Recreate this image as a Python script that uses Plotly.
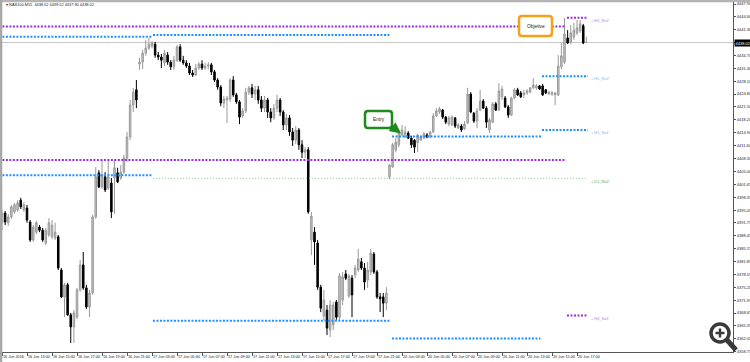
import plotly.graph_objects as go

# ---------------- data ----------------
time_labels = ["16 Jun 2016", "16 Jun 13:00", "16 Jun 15:00", "16 Jun 17:00", "16 Jun 19:00",
               "16 Jun 21:00", "17 Jun 03:00", "17 Jun 05:00", "17 Jun 07:00", "17 Jun 09:00",
               "17 Jun 11:00", "17 Jun 13:00", "17 Jun 15:00", "17 Jun 17:00", "17 Jun 19:00",
               "17 Jun 21:00", "20 Jun 03:00", "20 Jun 05:00", "20 Jun 07:00", "20 Jun 09:00",
               "20 Jun 11:00", "20 Jun 13:00", "20 Jun 15:00", "20 Jun 17:00"]

price_ticks = [4447.90, 4444.60, 4441.30, 4438.00, 4434.70, 4431.40, 4428.10, 4424.80,
               4421.50, 4418.20, 4414.90, 4411.60, 4408.30, 4405.00, 4401.65, 4398.35,
               4395.05, 4391.75, 4388.45, 4385.15, 4381.85, 4378.55, 4375.25, 4371.95,
               4368.65, 4365.35, 4362.05, 4358.75]

opens = [4391.8, 4394.3, 4391.8, 4393.3, 4394.6, 4395.1, 4397.6, 4395.1, 4395.6, 4392.0,
         4387.4, 4389.4, 4390.7, 4389.9, 4386.6, 4388.7, 4388.2, 4387.9, 4388.2, 4379.7,
         4372.8, 4375.9, 4368.2, 4365.1, 4367.6, 4374.6, 4381.0, 4375.1, 4370.2, 4373.8,
         4393.3, 4404.6, 4401.0, 4403.6, 4400.7, 4402.0, 4403.3, 4404.6, 4403.3, 4404.8,
         4408.4, 4413.8, 4422.0, 4425.9, 4432.5, 4433.0, 4435.3, 4436.6, 4437.1, 4437.6,
         4434.8, 4434.3, 4432.8, 4434.8, 4433.0, 4431.8, 4433.5, 4436.9, 4433.5, 4432.8,
         4432.0, 4430.2, 4429.7, 4431.5, 4432.5, 4431.5, 4432.0, 4432.3, 4430.5, 4428.4,
         4426.6, 4422.5, 4423.3, 4423.5, 4428.4, 4424.6, 4422.8, 4419.2, 4420.5, 4425.3,
         4426.4, 4424.8, 4425.9, 4423.3, 4421.2, 4423.3, 4420.2, 4418.7, 4421.2, 4423.3,
         4420.2, 4416.9, 4418.7, 4415.1, 4413.0, 4415.6, 4411.8, 4409.9, 4410.5, 4387.4,
         4389.4, 4386.6, 4375.3, 4367.9, 4369.4, 4364.3, 4365.6, 4371.5, 4367.6, 4372.0,
         4378.7, 4373.0, 4377.6, 4378.4, 4379.7, 4381.8, 4380.2, 4377.1, 4379.2, 4383.8,
         4379.2, 4372.8, 4372.8, 4371.2, 4403.6, 4406.1, 4410.5, 4411.8, 4414.3, 4413.8,
         4414.8, 4413.5, 4413.0, 4412.3, 4413.0, 4413.5, 4414.3, 4413.8, 4415.1, 4419.2,
         4420.2, 4420.7, 4418.9, 4417.1, 4416.9, 4418.7, 4416.1, 4416.6, 4415.9, 4417.4,
         4424.8, 4419.9, 4417.9, 4420.7, 4423.0, 4421.2, 4415.6, 4417.6, 4422.3, 4420.7,
         4424.1, 4423.8, 4421.5, 4419.4, 4423.8, 4425.9, 4425.1, 4424.6, 4425.1, 4425.3,
         4426.4, 4426.4, 4426.9, 4426.9, 4425.9, 4424.8, 4424.8, 4424.6, 4424.6, 4431.8,
         4433.0, 4439.2, 4438.2, 4439.4, 4440.5, 4441.0, 4442.3, 4438.02]
highs = [4395.1, 4394.8, 4394.1, 4396.4, 4396.9, 4397.6, 4398.2, 4397.1, 4396.4, 4392.5,
         4391.2, 4392.3, 4391.2, 4390.5, 4390.5, 4393.0, 4392.5, 4391.8, 4388.7, 4380.2,
         4376.4, 4376.4, 4368.7, 4369.4, 4375.1, 4382.3, 4384.3, 4375.9, 4374.6, 4393.8,
         4406.1, 4405.3, 4407.9, 4404.8, 4407.9, 4403.3, 4407.9, 4405.9, 4406.6, 4409.2,
         4415.1, 4423.3, 4426.4, 4428.4, 4434.1, 4436.1, 4438.7, 4439.2, 4438.4, 4438.2,
         4435.6, 4435.1, 4436.1, 4435.6, 4433.5, 4434.6, 4437.4, 4437.6, 4434.6, 4433.5,
         4432.8, 4431.0, 4432.5, 4433.0, 4433.5, 4432.8, 4433.0, 4432.8, 4431.0, 4428.9,
         4427.1, 4424.3, 4424.3, 4428.9, 4429.4, 4425.1, 4423.3, 4421.2, 4426.4, 4426.9,
         4427.4, 4426.9, 4426.9, 4424.3, 4424.3, 4423.8, 4421.2, 4422.3, 4424.6, 4423.8,
         4420.7, 4419.7, 4419.4, 4416.1, 4416.6, 4416.1, 4413.0, 4411.2, 4411.2, 4394.6,
         4390.7, 4387.4, 4375.9, 4374.6, 4370.7, 4372.0, 4371.5, 4372.0, 4378.9, 4379.2,
         4379.7, 4378.7, 4378.4, 4381.0, 4385.1, 4382.8, 4381.5, 4381.8, 4385.1, 4384.3,
         4379.7, 4373.8, 4373.8, 4375.3, 4406.9, 4412.3, 4413.5, 4415.6, 4416.9, 4416.6,
         4415.3, 4414.1, 4413.3, 4414.6, 4414.1, 4415.1, 4414.8, 4415.3, 4419.9, 4421.2,
         4421.5, 4421.0, 4419.2, 4419.2, 4419.4, 4418.9, 4417.4, 4417.1, 4417.9, 4426.4,
         4425.3, 4420.2, 4421.2, 4425.9, 4423.5, 4421.7, 4418.7, 4422.8, 4422.8, 4427.6,
         4426.9, 4424.3, 4422.0, 4424.1, 4426.4, 4426.4, 4425.6, 4425.9, 4426.1, 4426.6,
         4428.9, 4427.4, 4427.1, 4427.4, 4426.1, 4425.6, 4425.6, 4425.3, 4434.8, 4437.9,
         4444.3, 4441.2, 4442.5, 4443.0, 4443.8, 4443.8, 4442.8, 4439.52]
lows = [4389.9, 4391.2, 4391.0, 4392.8, 4394.1, 4394.6, 4395.3, 4394.6, 4391.8, 4386.9,
        4386.9, 4388.9, 4389.4, 4386.9, 4386.1, 4388.2, 4387.6, 4387.4, 4379.7, 4372.5,
        4367.6, 4367.9, 4361.0, 4361.0, 4367.1, 4374.1, 4374.6, 4369.7, 4367.6, 4373.3,
        4392.8, 4400.7, 4400.5, 4399.7, 4400.2, 4393.0, 4394.1, 4402.0, 4402.8, 4404.3,
        4407.4, 4413.0, 4420.2, 4421.2, 4431.0, 4431.2, 4434.6, 4436.1, 4436.6, 4434.1,
        4433.5, 4431.5, 4432.0, 4432.3, 4431.0, 4431.0, 4433.0, 4433.0, 4432.3, 4431.5,
        4429.7, 4429.2, 4429.4, 4431.0, 4431.0, 4431.0, 4431.2, 4429.7, 4427.9, 4425.9,
        4421.7, 4421.2, 4417.4, 4422.8, 4424.1, 4422.3, 4417.1, 4418.7, 4419.9, 4424.6,
        4423.8, 4423.3, 4422.3, 4420.2, 4420.2, 4418.7, 4417.6, 4418.2, 4420.2, 4419.2,
        4415.6, 4415.6, 4414.1, 4411.5, 4412.0, 4410.5, 4408.4, 4408.4, 4394.1, 4383.5,
        4381.0, 4374.6, 4368.9, 4366.9, 4363.0, 4362.5, 4364.3, 4366.9, 4366.9, 4370.7,
        4377.1, 4372.5, 4367.6, 4377.6, 4379.2, 4379.7, 4374.6, 4375.1, 4378.4, 4378.7,
        4372.3, 4368.9, 4367.6, 4369.4, 4403.0, 4405.9, 4409.9, 4411.2, 4414.1, 4413.5,
        4413.3, 4411.0, 4409.7, 4409.9, 4412.8, 4413.3, 4413.5, 4413.5, 4414.8, 4418.9,
        4419.7, 4418.4, 4417.1, 4416.6, 4416.6, 4416.1, 4415.9, 4415.1, 4415.6, 4417.1,
        4419.9, 4417.4, 4416.1, 4420.5, 4421.0, 4416.1, 4414.8, 4417.4, 4420.5, 4420.5,
        4423.3, 4421.2, 4418.7, 4419.2, 4423.5, 4424.3, 4423.8, 4423.8, 4424.6, 4425.1,
        4426.1, 4425.9, 4425.9, 4424.3, 4424.8, 4424.6, 4424.3, 4422.0, 4424.3, 4431.2,
        4432.5, 4437.6, 4437.6, 4438.7, 4439.9, 4440.5, 4437.6, 4437.90]
closes = [4394.3, 4392.0, 4393.3, 4395.9, 4396.4, 4396.9, 4395.9, 4396.4, 4392.5, 4387.4,
          4390.7, 4391.8, 4389.9, 4387.4, 4389.9, 4391.8, 4391.2, 4389.4, 4380.2, 4372.8,
          4375.9, 4368.2, 4365.1, 4368.7, 4374.6, 4381.0, 4375.1, 4370.2, 4373.8, 4393.3,
          4403.6, 4401.0, 4404.1, 4400.2, 4403.6, 4394.6, 4405.9, 4402.3, 4404.8, 4408.4,
          4413.8, 4422.0, 4425.3, 4423.3, 4433.0, 4435.3, 4436.6, 4437.6, 4437.9, 4434.8,
          4434.3, 4433.5, 4435.3, 4433.0, 4431.8, 4433.5, 4436.9, 4433.5, 4432.8, 4432.0,
          4430.2, 4429.7, 4431.5, 4432.5, 4431.5, 4432.0, 4432.3, 4430.5, 4428.4, 4426.6,
          4422.5, 4423.5, 4423.8, 4428.4, 4424.6, 4422.8, 4418.9, 4420.5, 4425.3, 4426.4,
          4424.8, 4425.9, 4423.3, 4421.2, 4423.3, 4420.2, 4418.7, 4421.2, 4423.3, 4420.2,
          4416.9, 4418.7, 4415.1, 4413.0, 4415.6, 4411.8, 4409.9, 4410.5, 4394.6, 4393.5,
          4386.9, 4375.3, 4369.9, 4372.0, 4364.8, 4370.7, 4370.7, 4367.6, 4378.2, 4377.9,
          4377.6, 4378.2, 4373.3, 4380.2, 4382.5, 4380.2, 4376.6, 4379.7, 4384.0, 4379.2,
          4372.8, 4372.3, 4371.2, 4373.8, 4406.6, 4411.8, 4412.5, 4414.8, 4415.6, 4415.1,
          4413.5, 4411.8, 4411.2, 4414.3, 4413.8, 4414.6, 4413.8, 4415.1, 4419.2, 4420.5,
          4421.0, 4418.9, 4417.6, 4418.7, 4418.9, 4416.6, 4416.9, 4415.6, 4417.1, 4424.8,
          4420.2, 4417.9, 4420.5, 4423.0, 4421.2, 4417.6, 4418.2, 4422.3, 4420.7, 4425.6,
          4426.1, 4421.5, 4419.4, 4423.8, 4425.9, 4424.6, 4424.1, 4425.1, 4425.6, 4426.4,
          4427.1, 4426.9, 4426.1, 4424.6, 4425.1, 4425.3, 4425.1, 4425.1, 4432.0, 4434.6,
          4440.2, 4437.9, 4440.5, 4441.2, 4441.8, 4442.8, 4437.9, 4438.02]

header = "NAS100,M15  4438.02 4439.52 4437.90 4438.02"
last_price = 4438.02

# support / resistance levels: (price, first bar, last bar)
purple_levels = [(4442.1, -1, 180.5), (4407.9, -1, 180.5), (4444.4, 180.8, 187.5), (4368.0, 180.8, 187.5)]
blue_levels = [(4439.5, -1, 48), (4439.95, 48.3, 124.2), (4404.0, -1, 48), (4366.7, 48.3, 124.2),
               (4413.9, 124.8, 172.5), (4362.1, 124.8, 172.3), (4429.4, 172.8, 187.5), (4415.6, 172.8, 187.5)]
green_levels = [(4403.2, 48.3, 187.5)]
level_names = [("+ H4_RoZ", 4443.6, "#b27fe6"), ("+ H1_RoZ", 4428.7, "#7db7f0"),
               ("+ H1_SoZ", 4414.9, "#7db7f0"), ("+ D1_RoZ", 4402.5, "#4caf50"),
               ("+ H4_SoZ", 4367.2, "#b27fe6")]

# ---------------- figure ----------------
W, H = 750, 362
ML, MR, MT, MB = 2, 17, 2, 10
PW, PH = W - ML - MR, H - MT - MB
BAR_PX = 3.125
FONT = "Liberation Sans"
y_top = 4447.90 + (4 - MT) / 3.9
y_bot = 4447.90 - (H - MB - 4) / 3.9


def px(x):
    return (x - ML) / PW


def py(y):
    return (H - MB - y) / PH


x = list(range(len(opens)))
fig = go.Figure()
fig.add_trace(go.Candlestick(
    x=x, open=opens, high=highs, low=lows, close=closes,
    increasing=dict(line=dict(color="#9a9a9a", width=1), fillcolor="#c6c6c6"),
    decreasing=dict(line=dict(color="#000000", width=1), fillcolor="#000000"),
    whiskerwidth=0, hoverinfo="skip", showlegend=False))

shapes = []
# current price line
shapes.append(dict(type="line", xref="paper", yref="y", x0=0, x1=1, y0=last_price, y1=last_price,
                   line=dict(color="#c8c8c8", width=1), layer="below"))
for p, a, b in purple_levels:
    shapes.append(dict(type="line", xref="x", yref="y", x0=a, x1=b, y0=p, y1=p,
                       line=dict(color="#9a2fe0", width=2, dash="2px,1.5px")))
for p, a, b in blue_levels:
    shapes.append(dict(type="line", xref="x", yref="y", x0=a, x1=b, y0=p, y1=p,
                       line=dict(color="#1e90ff", width=2, dash="2px,1.5px")))
for p, a, b in green_levels:
    shapes.append(dict(type="line", xref="x", yref="y", x0=a, x1=b, y0=p, y1=p,
                       line=dict(color="#8fd08f", width=1, dash="1px,2px")))


def rounded_box(x0, y0, x1, y1, r):
    # pixel coords -> paper path
    X0, X1 = px(x0), px(x1)
    Y0, Y1 = py(y0), py(y1)
    rx, ry = r / PW, r / PH
    return (f"M{X0+rx},{Y0} L{X1-rx},{Y0} Q{X1},{Y0} {X1},{Y0-ry} L{X1},{Y1+ry} "
            f"Q{X1},{Y1} {X1-rx},{Y1} L{X0+rx},{Y1} Q{X0},{Y1} {X0},{Y1+ry} "
            f"L{X0},{Y0-ry} Q{X0},{Y0} {X0+rx},{Y0} Z")


shapes.append(dict(type="path", xref="paper", yref="paper", path=rounded_box(519, 16, 552, 36, 3),
                   line=dict(color="#f5a01a", width=2.5), fillcolor="#ffffff"))
shapes.append(dict(type="path", xref="paper", yref="paper", path=rounded_box(365, 111, 392, 128, 3),
                   line=dict(color="#1e8a1e", width=2.5), fillcolor="#ffffff"))

# window frame
shapes.append(dict(type="rect", xref="paper", yref="paper", x0=px(0), x1=px(W), y0=py(0), y1=py(2.3),
                   line=dict(width=0), fillcolor="#b4b4b4"))
shapes.append(dict(type="rect", xref="paper", yref="paper", x0=px(0), x1=px(2.3), y0=py(0), y1=py(H),
                   line=dict(width=0), fillcolor="#a8a8a8"))

# zoom glyph
shapes.append(dict(type="circle", xref="paper", yref="paper", x0=px(711), x1=px(729), y0=py(324), y1=py(342),
                   line=dict(color="#3a3a3a", width=3.5), fillcolor="rgba(255,255,255,0.6)"))
shapes.append(dict(type="line", xref="paper", yref="paper", x0=px(727), x1=px(736), y0=py(340), y1=py(350),
                   line=dict(color="#3a3a3a", width=5)))
shapes.append(dict(type="line", xref="paper", yref="paper", x0=px(715.5), x1=px(724.5), y0=py(333), y1=py(333),
                   line=dict(color="#3a3a3a", width=2.5)))
shapes.append(dict(type="line", xref="paper", yref="paper", x0=px(720), x1=px(720), y0=py(328.5), y1=py(337.5),
                   line=dict(color="#3a3a3a", width=2.5)))

annotations = []
annotations.append(dict(xref="paper", yref="paper", x=px(4), y=py(5), xanchor="left", yanchor="middle",
                        text="\u25be " + header, showarrow=False, font=dict(family=FONT, size=3.9, color="#222")))
annotations.append(dict(xref="paper", yref="paper", x=px(535.5), y=py(26), xanchor="center", yanchor="middle",
                        text="Objetive", showarrow=False, font=dict(family=FONT, size=4.8, color="#222")))
annotations.append(dict(xref="paper", yref="paper", x=px(378.5), y=py(119.5), xanchor="center",
                        yanchor="middle", text="Entry", showarrow=False,
                        font=dict(family=FONT, size=4.8, color="#222")))
annotations.append(dict(xref="paper", yref="paper", x=px(401), y=py(133.5), ax=-11, ay=-8.5,
                        axref="pixel", ayref="pixel", showarrow=True, arrowhead=2, arrowsize=0.9,
                        arrowwidth=2.5, arrowcolor="#1e8a1e", text=""))
for name, p, col in level_names:
    annotations.append(dict(xref="x", yref="y", x=187.8, y=p, xanchor="left", yanchor="middle", text=name,
                            showarrow=False, font=dict(family=FONT, size=3.9, color=col)))
annotations.append(dict(xref="paper", yref="y", x=1.0, xshift=1, y=last_price, xanchor="left",
                        yanchor="middle", text="4438.02", showarrow=False, bgcolor="#000000",
                        font=dict(family=FONT, size=4.0, color="#ffffff"), borderpad=0.6))

fig.update_layout(
    width=W, height=H, margin=dict(l=ML, r=MR, t=MT, b=MB, autoexpand=False),
    paper_bgcolor="#ffffff", plot_bgcolor="#ffffff",
    font=dict(family=FONT, size=3.9, color="#222"),
    shapes=shapes, annotations=annotations,
    xaxis=dict(range=[0, PW / BAR_PX], rangeslider=dict(visible=False), showgrid=False, zeroline=False,
               tickvals=list(range(0, 8 * len(time_labels), 8)), ticktext=time_labels, tickangle=0,
               ticks="outside", ticklen=3, tickcolor="#555", ticklabelposition="outside right",
               showline=True, linecolor="#555", linewidth=1, tickfont=dict(family=FONT, size=3.8),
               automargin=False),
    yaxis=dict(range=[y_bot, y_top], side="right", showgrid=False, zeroline=False,
               tickvals=price_ticks, ticktext=[f"{v:.2f}" for v in price_ticks],
               ticks="outside", ticklen=2, tickcolor="#555", showline=True, linecolor="#555",
               linewidth=1, tickfont=dict(family=FONT, size=4.0), automargin=False),
)

fig.write_html("out.html")
